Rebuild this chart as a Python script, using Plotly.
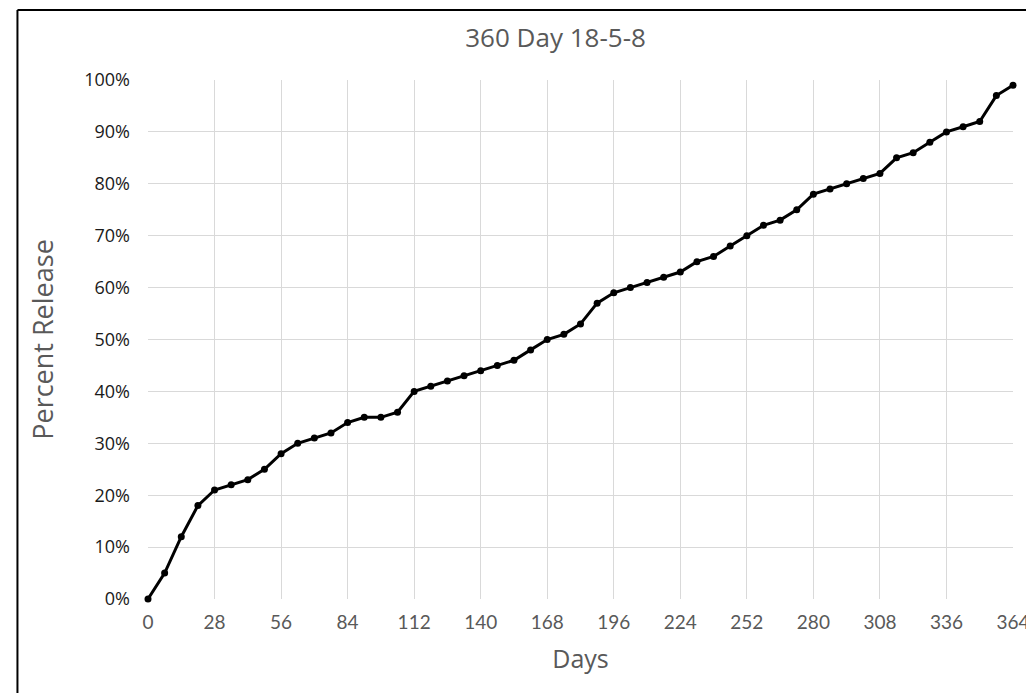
import plotly.graph_objects as go

days = list(range(0, 365, 7))
release = [0, 5, 12, 18, 21, 22, 23, 25, 28, 30, 31, 32, 34, 35, 35, 36,
           40, 41, 42, 43, 44, 45, 46, 48, 50, 51, 53, 57, 59, 60, 61, 62,
           63, 65, 66, 68, 70, 72, 73, 75, 78, 79, 80, 81, 82, 85, 86, 88,
           90, 91, 92, 97, 99]
x_ticks = list(range(0, 365, 28))
y_ticks = list(range(0, 101, 10))
y_labels = [f"{v}%" for v in y_ticks]
title = "360 Day 18-5-8"

FONT = "'Open Sans', Lato, sans-serif"
XFONT = "Lato, 'Open Sans', sans-serif"

fig = go.Figure()
fig.add_trace(go.Scatter(
    x=days, y=release, mode="lines+markers",
    line=dict(color="black", width=3),
    marker=dict(color="black", size=7),
    cliponaxis=False, showlegend=False,
))

W, H = 1034, 693
OFF = 8  # page body margin offset
# plot area in page pixels: left 148, right 1016, top 80, bottom 599
L, T = 148 - OFF, 80 - OFF
R, B = W - (1016 - OFF), H - (599 - OFF)
pw, ph = W - L - R, H - T - B

def px_x(p):
    return (p - OFF - L) / pw

def px_y(p):
    return (H - B - (p - OFF)) / ph

fig.update_layout(
    width=W, height=H,
    margin=dict(l=L, r=R, t=T, b=B),
    paper_bgcolor="white", plot_bgcolor="white",
    title=dict(text=title, x=px_x(557), xref="paper", xanchor="center",
               y=1 - (38 - OFF) / H, yanchor="middle",
               font=dict(family=FONT, size=26, color="#595959")),
    xaxis=dict(range=[0, 364], tickvals=x_ticks, showgrid=True,
               gridcolor="#d9d9d9", gridwidth=1, zeroline=False,
               showline=False, ticks="", ticklabelstandoff=10,
               tickfont=dict(family=XFONT, size=19, color="#595959"),
               title=dict(text="Days", standoff=18,
                          font=dict(family=FONT, size=25, color="#595959"))),
    yaxis=dict(range=[0, 100], tickvals=y_ticks, ticktext=y_labels,
               showgrid=True, gridcolor="#d9d9d9", gridwidth=1,
               zeroline=False, showline=False, ticks="",
               ticklabelstandoff=17,
               tickfont=dict(family=FONT, size=18, color="#1a1a1a"),
               title=dict(text="Percent Release", standoff=22,
                          font=dict(family=FONT, size=27, color="#595959"))),
    shapes=[
        dict(type="line", xref="paper", yref="paper",
             x0=px_x(17), x1=px_x(1050), y0=px_y(10), y1=px_y(10),
             line=dict(color="black", width=2)),
        dict(type="line", xref="paper", yref="paper",
             x0=px_x(17), x1=px_x(17), y0=px_y(10), y1=px_y(710),
             line=dict(color="black", width=2)),
    ],
)

fig.write_html("out.html")
